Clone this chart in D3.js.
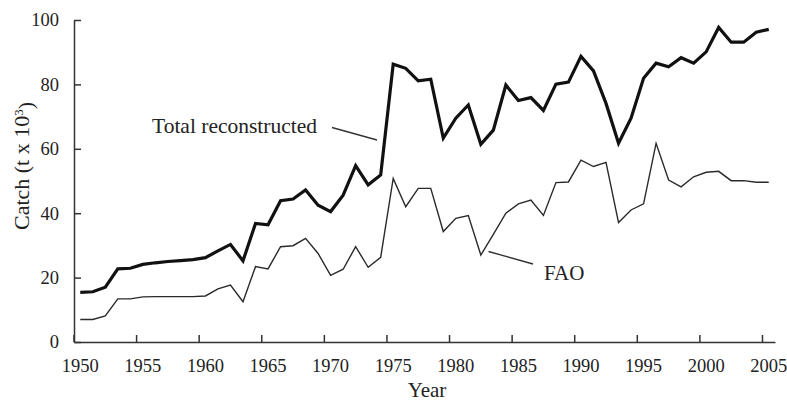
<!DOCTYPE html>
<html>
<head>
<meta charset="utf-8">
<script src="https://cdn.jsdelivr.net/npm/d3@7"></script>
<style>
  body { margin: 0; background: #fff; }
  svg text { font-family: "Liberation Serif", "Times New Roman", serif; fill: #222; }
</style>
</head>
<body>
<svg width="787" height="405"></svg>
<script>
// ### Data ###
var years = d3.range(1950, 2006);
var totalReconstructed = [15.4, 15.6, 17.0, 22.7, 22.9, 24.1, 24.6, 25.0, 25.3, 25.6,
  26.2, 28.3, 30.3, 25.2, 36.8, 36.4, 43.9, 44.4, 47.2, 42.5,
  40.5, 45.6, 54.8, 48.8, 51.9, 86.3, 85.0, 81.1, 81.6, 63.3,
  69.5, 73.6, 61.4, 65.8, 79.8, 75.0, 75.9, 71.9, 80.1, 80.7,
  88.7, 84.2, 74.1, 61.7, 69.5, 81.9, 86.6, 85.5, 88.3, 86.6,
  90.1, 97.7, 93.1, 93.1, 96.2, 97.1];
var fao = [7.0, 7.0, 8.1, 13.4, 13.4, 14.0, 14.1, 14.1, 14.1, 14.1,
  14.3, 16.5, 17.7, 12.5, 23.4, 22.7, 29.6, 29.9, 32.2, 27.5,
  20.7, 22.6, 29.6, 23.2, 26.3, 50.8, 42.0, 47.7, 47.7, 34.3,
  38.4, 39.3, 27.0, 33.4, 40.0, 42.9, 44.1, 39.3, 49.5, 49.7,
  56.5, 54.5, 55.8, 37.1, 41.0, 42.9, 61.7, 50.3, 48.2, 51.3,
  52.7, 53.0, 50.1, 50.1, 49.6, 49.6];
var xTickYears = d3.range(1950, 2006, 5);
var yTicks = [0, 20, 40, 60, 80, 100];

// ### Canvas ###
var svg = d3.select('svg');
var plot = {left: 74, right: 775, top: 20, bottom: 342};

// category axis: ticks sit between years, points sit mid-category
var x = d3.scaleBand()
  .domain(years)
  .range([plot.left, plot.right])
  .paddingInner(0).paddingOuter(0);
var bw = x.bandwidth();
var y = d3.scaleLinear()
  .domain([0, 100])
  .range([plot.bottom, plot.top]);

// ### Axes ###
var xAxis = svg.append('g')
  .attr('transform', `translate(0, ${plot.bottom})`)
  .call(d3.axisBottom(x)
    .tickValues(xTickYears)
    .tickSizeInner(-7)
    .tickSizeOuter(0)
    .tickPadding(17));
xAxis.selectAll('.tick line').attr('transform', `translate(${-bw / 2}, 0)`);

var yAxis = svg.append('g')
  .attr('transform', `translate(${plot.left}, 0)`)
  .call(d3.axisLeft(y)
    .tickValues(yTicks)
    .tickSizeInner(-7)
    .tickSizeOuter(0)
    .tickPadding(15));

svg.selectAll('.domain, .tick line')
  .attr('stroke', '#333')
  .attr('stroke-width', 1.5);
svg.selectAll('.tick text')
  .style('font-family', '"Liberation Serif", serif')
  .style('font-size', '18.5px')
  .attr('fill', '#222');

// axis titles
svg.append('text')
  .attr('x', 427).attr('y', 397)
  .attr('text-anchor', 'middle')
  .style('font-size', '21px')
  .text('Year');

var yTitle = svg.append('text')
  .attr('transform', 'translate(29, 166) rotate(-90)')
  .attr('text-anchor', 'middle')
  .style('font-size', '22px')
  .attr('fill', '#444');
yTitle.append('tspan').text('Catch (t x 10');
yTitle.append('tspan').attr('dy', '-0.45em').style('font-size', '13px').text('3');
yTitle.append('tspan').attr('dy', '0.45em').text(')');

// ### Lines ###
var line = d3.line()
  .x((d, i) => x(years[i]) + bw / 2)
  .y(d => y(d));

svg.append('path')
  .datum(fao)
  .attr('d', line)
  .attr('fill', 'none')
  .attr('stroke', '#2a2a2a')
  .attr('stroke-width', 1.4)
  .attr('stroke-linejoin', 'miter');

svg.append('path')
  .datum(totalReconstructed)
  .attr('d', line)
  .attr('fill', 'none')
  .attr('stroke', '#111')
  .attr('stroke-width', 3.2)
  .attr('stroke-linejoin', 'miter');

// ### Labels with leader lines ###
svg.append('text')
  .attr('x', 152).attr('y', 133)
  .style('font-size', '21.5px')
  .text('Total reconstructed');
svg.append('line')
  .attr('x1', 332).attr('y1', 127.5)
  .attr('x2', 377).attr('y2', 140)
  .attr('stroke', '#333').attr('stroke-width', 1.3);

svg.append('text')
  .attr('x', 544).attr('y', 280)
  .style('font-size', '21px')
  .text('FAO');
svg.append('line')
  .attr('x1', 488.5).attr('y1', 251.5)
  .attr('x2', 533).attr('y2', 264)
  .attr('stroke', '#333').attr('stroke-width', 1.3);
</script>
</body>
</html>
